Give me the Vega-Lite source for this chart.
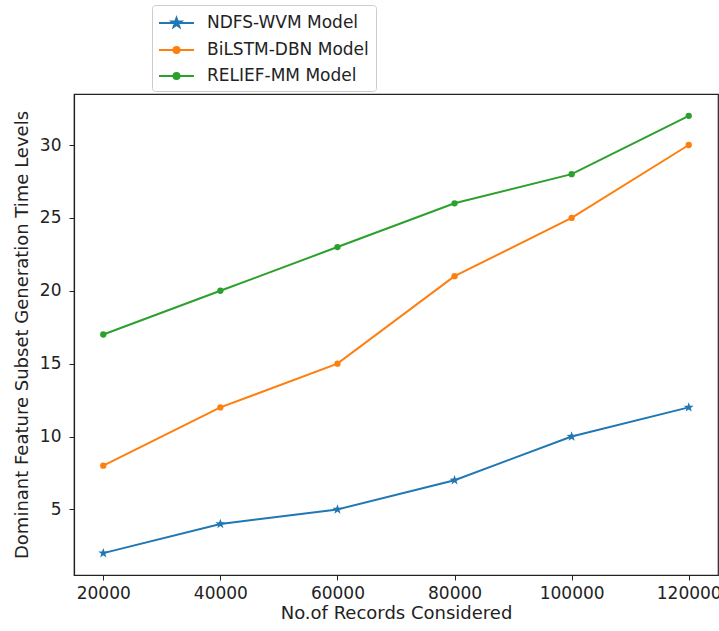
{
  "$schema": "https://vega.github.io/schema/vega-lite/v6.json",
  "autosize": {"type": "none"},
  "padding": {"left": 74, "top": 94, "right": 1, "bottom": 56},
  "width": 644,
  "height": 481,
  "background": "white",
  "config": {
    "view": {"stroke": "#222", "strokeWidth": 1.2},
    "font": "DejaVu Sans",
    "axis": {
      "domainColor": "#222", "domainWidth": 1.2, "tickColor": "#222", "tickSize": 5, "tickWidth": 1,
      "labelColor": "#222", "labelFontSize": 17, "labelFont": "DejaVu Sans",
      "titleColor": "#222", "titleFontSize": 18, "titleFont": "DejaVu Sans", "titleFontWeight": "normal",
      "grid": false
    }
  },
  "data": {"values": [
    {"records": 20000, "time": 2, "model": "NDFS-WVM Model"},
    {"records": 40000, "time": 4, "model": "NDFS-WVM Model"},
    {"records": 60000, "time": 5, "model": "NDFS-WVM Model"},
    {"records": 80000, "time": 7, "model": "NDFS-WVM Model"},
    {"records": 100000, "time": 10, "model": "NDFS-WVM Model"},
    {"records": 120000, "time": 12, "model": "NDFS-WVM Model"},
    {"records": 20000, "time": 8, "model": "BiLSTM-DBN Model"},
    {"records": 40000, "time": 12, "model": "BiLSTM-DBN Model"},
    {"records": 60000, "time": 15, "model": "BiLSTM-DBN Model"},
    {"records": 80000, "time": 21, "model": "BiLSTM-DBN Model"},
    {"records": 100000, "time": 25, "model": "BiLSTM-DBN Model"},
    {"records": 120000, "time": 30, "model": "BiLSTM-DBN Model"},
    {"records": 20000, "time": 17, "model": "RELIEF-MM Model"},
    {"records": 40000, "time": 20, "model": "RELIEF-MM Model"},
    {"records": 60000, "time": 23, "model": "RELIEF-MM Model"},
    {"records": 80000, "time": 26, "model": "RELIEF-MM Model"},
    {"records": 100000, "time": 28, "model": "RELIEF-MM Model"},
    {"records": 120000, "time": 32, "model": "RELIEF-MM Model"}
  ]},
  "encoding": {
    "x": {"field": "records", "type": "quantitative", "title": "No.of Records Considered",
      "scale": {"domain": [15000, 125000], "nice": false, "zero": false},
      "axis": {"values": [20000, 40000, 60000, 80000, 100000, 120000], "format": "d", "labelFlush": false, "labelOverlap": false, "labelPadding": 5, "titlePadding": 3}},
    "y": {"field": "time", "type": "quantitative", "title": "Dominant Feature Subset Generation Time Levels",
      "scale": {"domain": [0.5, 33.5], "nice": false, "zero": false},
      "axis": {"values": [5, 10, 15, 20, 25, 30], "labelPadding": 8, "titlePadding": 8}},
    "color": {"field": "model", "type": "nominal",
      "scale": {"domain": ["NDFS-WVM Model", "BiLSTM-DBN Model", "RELIEF-MM Model"], "range": ["#1f77b4", "#ff7f0e", "#2ca02c"]},
      "legend": {
        "title": null, "orient": "none", "legendX": 78, "legendY": -89,
        "fillColor": "white", "strokeColor": "#cccccc", "cornerRadius": 3, "padding": 7,
        "labelFontSize": 17, "labelFont": "DejaVu Sans", "labelColor": "#222", "labelOffset": 19.5, "labelLimit": 400,
        "symbolSize": 400, "symbolOffset": 6.5, "rowPadding": 7,
        "encode": {"symbols": {"update": {
          "shape": {"signal": "datum.value === 'NDFS-WVM Model' ? 'M-1.75,0H1.75M0,-0.5L0.118,-0.162L0.476,-0.154L0.19,0.062L0.294,0.405L0,0.2L-0.294,0.405L-0.19,0.062L-0.476,-0.154L-0.118,-0.162Z' : 'M-1.75,0H1.75M0.3,0A0.3,0.3,0,1,1,-0.3,0A0.3,0.3,0,1,1,0.3,0Z'"},
          "stroke": {"scale": "color", "field": "value"},
          "fill": {"scale": "color", "field": "value"},
          "strokeWidth": {"value": 2},
          "opacity": {"value": 1}
        }}}
      }}
  },
  "layer": [
    {"mark": {"type": "line", "strokeWidth": 2}},
    {"transform": [{"filter": "datum.model === 'NDFS-WVM Model'"}],
      "mark": {"type": "point", "filled": true, "opacity": 1, "size": 110,
        "shape": "M0,-1L0.235,-0.324L0.951,-0.309L0.38,0.124L0.588,0.809L0,0.4L-0.588,0.809L-0.38,0.124L-0.951,-0.309L-0.235,-0.324Z"}},
    {"transform": [{"filter": "datum.model !== 'NDFS-WVM Model'"}],
      "mark": {"type": "point", "filled": true, "opacity": 1, "size": 40, "shape": "circle"}}
  ]
}
